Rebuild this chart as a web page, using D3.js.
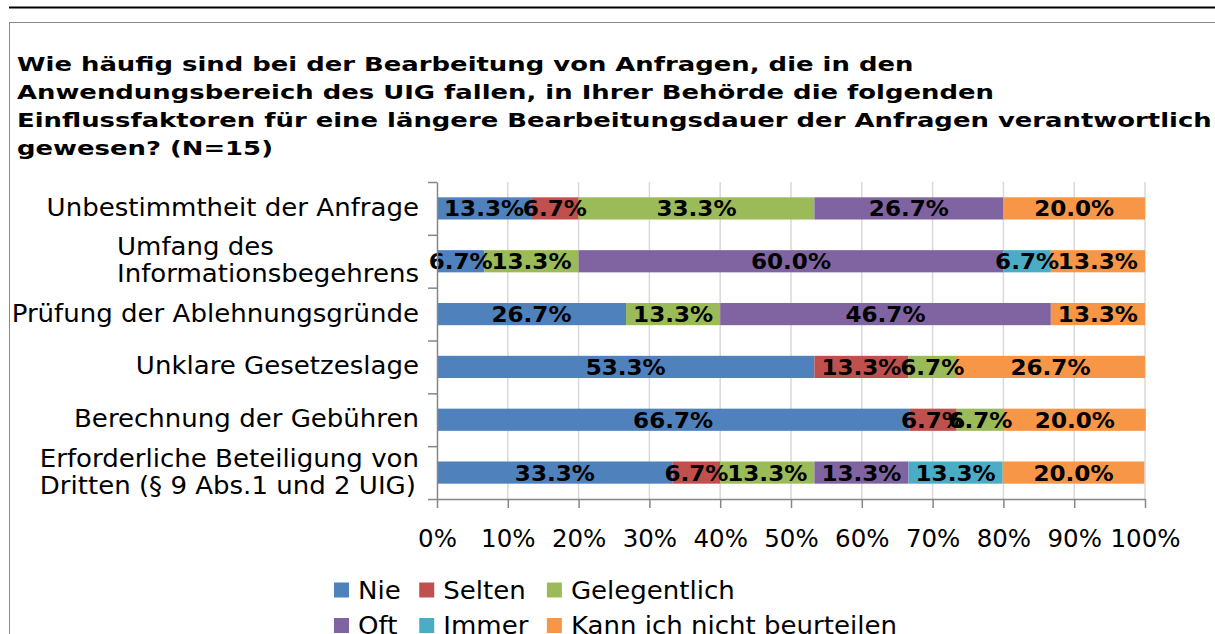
<!DOCTYPE html>
<html>
<head>
<meta charset="utf-8">
<script src="https://cdn.jsdelivr.net/npm/d3@7"></script>
<style>
  html, body { margin: 0; padding: 0; background: #fff; }
  svg { display: block; font-family: "DejaVu Sans", sans-serif; }
</style>
</head>
<body>
<svg id="chart" width="1215" height="634"></svg>
<script>
// Survey question and answer categories
const titleLines = [
  "Wie häufig sind bei der Bearbeitung von Anfragen, die in den",
  "Anwendungsbereich des UIG fallen, in Ihrer Behörde die folgenden",
  "Einflussfaktoren für eine längere Bearbeitungsdauer der Anfragen verantwortlich",
  "gewesen? (N=15)"
];

const categories = [
  ["Unbestimmtheit der Anfrage"],
  ["Umfang des", "Informationsbegehrens"],
  ["Prüfung der Ablehnungsgründe"],
  ["Unklare Gesetzeslage"],
  ["Berechnung der Gebühren"],
  ["Erforderliche Beteiligung von", "Dritten (§ 9 Abs.1 und 2 UIG)"]
];

const seriesNames = ["Nie", "Selten", "Gelegentlich", "Oft", "Immer", "Kann ich nicht beurteilen"];
const seriesColors = ["#4F81BD", "#C0504D", "#9BBB59", "#8064A2", "#4BACC6", "#F79646"];

// Percentages per series, one value per category (top to bottom)
const nie          = [13.3,  6.7, 26.7, 53.3, 66.7, 33.3];
const selten       = [ 6.7,  0.0,  0.0, 13.3,  6.7,  6.7];
const gelegentlich = [33.3, 13.3, 13.3,  6.7,  6.7, 13.3];
const oft          = [26.7, 60.0, 46.7,  0.0,  0.0, 13.3];
const immer        = [ 0.0,  6.7,  0.0,  0.0,  0.0, 13.3];
const kannNicht    = [20.0, 13.3, 13.3, 26.7, 20.0, 20.0];

const tickValues = [0, 10, 20, 30, 40, 50, 60, 70, 80, 90, 100];
const tickLabels = ["0%", "10%", "20%", "30%", "40%", "50%", "60%", "70%", "80%", "90%", "100%"];

const seriesValues = [nie, selten, gelegentlich, oft, immer, kannNicht];

// Horizontal stretch of the wide label typefaces
const titleWidth = 1195;
const catStretch = 1.085;
const valueStretch = 1.05;
const tickStretch = 1.02;

const svg = d3.select("#chart");

// Page rule and chart frame
svg.append("line").attr("x1", 9).attr("x2", 1215).attr("y1", 7.5).attr("y2", 7.5)
  .attr("stroke", "#000").attr("stroke-width", 2);
svg.append("rect").attr("x", 9.5).attr("y", 22.5).attr("width", 1220).attr("height", 640)
  .attr("fill", "none").attr("stroke", "#888").attr("stroke-width", 1);

// Title, stretched so the longest line spans the frame
const titleG = svg.append("g");
const title = titleG.append("text")
  .attr("font-weight", "bold").attr("font-size", 20).attr("fill", "#000");
const titleSpans = titleLines.map((t, i) =>
  title.append("tspan").attr("x", 0).attr("y", 71 + i * 28).text(t));
const longest = d3.max(titleSpans, s => s.node().getComputedTextLength());
titleG.attr("transform", `translate(17,0) scale(${titleWidth / longest},1)`);

// Scales
const x = d3.scaleLinear().domain([0, 100]).range([437, 1145]);
const y = d3.scaleBand().domain(d3.range(categories.length)).range([182, 499]).padding(0);
const yEdge = d3.scaleLinear().domain([0, categories.length]).range([182, 499]);
const barH = y.bandwidth() * 0.42;

// Vertical gridlines
svg.append("g").selectAll("line").data(tickValues.slice(1)).join("line")
  .attr("x1", d => x(d)).attr("x2", d => x(d))
  .attr("y1", 182).attr("y2", 499)
  .attr("stroke", "#d9d9d9").attr("stroke-width", 1.5);

// Stack the series
const rows = categories.map((c, i) => {
  const o = { idx: i };
  seriesNames.forEach((s, k) => { o[s] = seriesValues[k][i]; });
  return o;
});
const stacked = d3.stack().keys(seriesNames)(rows);

const layers = svg.append("g").selectAll("g").data(stacked).join("g")
  .attr("fill", (d, k) => seriesColors[k]);
layers.selectAll("rect").data(d => d).join("rect")
  .attr("x", d => x(d[0]))
  .attr("width", d => x(d[1]) - x(d[0]))
  .attr("y", d => y(d.data.idx) + (y.bandwidth() - barH) / 2)
  .attr("height", barH);

// Value labels centred on each non-empty segment
const labelG = svg.append("g").attr("font-weight", "bold").attr("font-size", 22)
  .attr("text-anchor", "middle").attr("fill", "#000");
stacked.forEach(layer => {
  layer.forEach(d => {
    const v = d[1] - d[0];
    if (v <= 0.01) return;
    const cx = x((d[0] + d[1]) / 2);
    const cy = y(d.data.idx) + y.bandwidth() / 2 + 8;
    labelG.append("text")
      .attr("transform", `translate(${cx},${cy}) scale(${valueStretch},1)`)
      .text(d.data[layer.key].toFixed(1) + "%");
  });
});

// Axes
const yAxis = svg.append("g").attr("transform", "translate(437,0)")
  .call(d3.axisLeft(yEdge).ticks(categories.length).tickFormat("").tickSize(9).tickSizeOuter(0));
const xAxis = svg.append("g").attr("transform", "translate(0,499)")
  .call(d3.axisBottom(x).tickValues(tickValues).tickFormat((d, i) => tickLabels[i]).tickSize(9).tickSizeOuter(0).tickPadding(22));
[yAxis, xAxis].forEach(a => {
  a.select(".domain").attr("stroke", "#868686").attr("stroke-width", 1.5);
  a.selectAll(".tick line").attr("stroke", "#868686").attr("stroke-width", 1.5);
});
xAxis.selectAll(".tick text").attr("font-size", 24).attr("fill", "#000")
  .attr("font-family", "DejaVu Sans").attr("transform", `scale(${tickStretch},1)`);

// Category labels: lines left-aligned, block right-aligned against the axis
const catG = svg.append("g").attr("font-size", 24).attr("fill", "#000");
categories.forEach((lines, i) => {
  const cy = y(i) + y.bandwidth() / 2;
  const lh = 27;
  const g = catG.append("g").attr("transform", `translate(419,0) scale(${catStretch},1)`);
  const t = g.append("text");
  const spans = lines.map((l, j) =>
    t.append("tspan").attr("y", cy + 7.5 + (j - (lines.length - 1) / 2) * lh).text(l));
  const w = d3.max(spans, s => s.node().getComputedTextLength());
  spans.forEach(s => s.attr("x", -w));
});

// Legend: two rows, three aligned columns
const legendRows = [[0, 1, 2], [3, 4, 5]];
const legG = svg.append("g").attr("font-size", 24).attr("fill", "#000");
const probe = legG.append("text");
const colW = [0, 1, 2].map(c => d3.max(legendRows, r => {
  probe.text(seriesNames[r[c]]);
  return probe.node().getComputedTextLength() * catStretch;
}));
probe.remove();
const colX = [334];
colX.push(colX[0] + 24 + colW[0] + 18.5);
colX.push(colX[1] + 24 + colW[1] + 18.5);
legendRows.forEach((r, ri) => {
  r.forEach((k, c) => {
    const ly = 582.5 + ri * 35.5;
    legG.append("rect").attr("x", colX[c]).attr("y", ly).attr("width", 15).attr("height", 15)
      .attr("fill", seriesColors[k]);
    legG.append("text")
      .attr("transform", `translate(${colX[c] + 24},${ly + 16}) scale(${catStretch},1)`)
      .text(seriesNames[k]);
  });
});
</script>
</body>
</html>
